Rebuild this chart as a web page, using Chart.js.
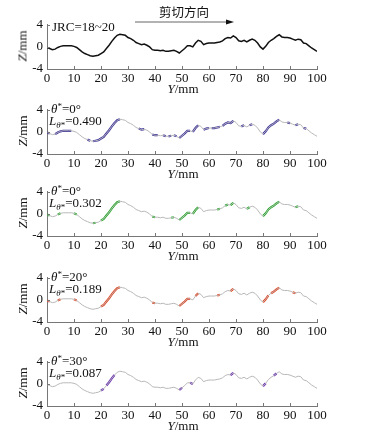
<!DOCTYPE html>
<html><head><meta charset="utf-8">
<script src="https://cdn.jsdelivr.net/npm/chart.js@4.4.1/dist/chart.umd.min.js"></script>
<style>
html,body{margin:0;padding:0;background:#fff;}
#wrap{position:relative;width:372px;height:437px;overflow:hidden;font-family:"Liberation Serif",serif;color:#111;}
canvas{position:absolute;left:0;}
.t{position:absolute;white-space:nowrap;font-size:13px;line-height:13px;}
.zl{position:absolute;font-size:13px;line-height:13px;transform:translate(-50%,-50%) rotate(-90deg);white-space:nowrap;}
.yl{position:absolute;font-size:13px;line-height:13px;transform:translate(-50%,-50%);white-space:nowrap;}
sub{font-size:9px;vertical-align:-3px;line-height:0;}
sup{font-size:9px;vertical-align:4px;line-height:0;}
</style></head>
<body><div id="wrap"></div>
<script>
// ---- data ----
const positions = [0,1,2,3,4,5,6,7,8,9,10,11,12,13,14,15,16,17,18,19,20,21,22,23,24,25,26,27,28,29,30,31,32,33,34,35,36,37,38,39,40,41,42,43,44,45,46,47,48,49,50,51,52,53,54,55,56,57,58,59,60,61,62,63,64,65,66,67,68,69,70,71,72,73,74,75,76,77,78,79,80,81,82,83,84,85,86,87,88,89,90,91,92,93,94,95,96,97,98,99,100];
const profileZ = [-0.1,-0.3,-0.5,-0.4,-0.1,0.1,0.2,0.2,0.2,0.2,0.1,-0.1,-0.5,-0.9,-1.2,-1.4,-1.6,-1.7,-1.6,-1.5,-1.2,-0.9,-0.3,0.3,1.0,1.6,2.1,2.3,2.2,2.1,1.7,1.5,1.2,0.8,0.6,0.4,0.5,0.3,0.0,-0.5,-0.6,-0.6,-0.7,-0.6,-0.8,-0.8,-0.7,-0.6,-0.8,-1.1,-0.7,-0.3,0.2,0.2,0.0,0.7,1.2,1.0,0.4,0.6,0.7,0.7,0.7,0.8,0.9,1.1,1.5,1.7,1.6,2.0,1.7,1.1,1.0,1.2,0.9,1.2,1.4,1.2,0.7,0.0,-0.4,0.1,0.8,1.2,1.5,1.9,2.2,1.8,1.7,1.7,1.6,1.4,1.2,1.4,1.3,0.7,0.6,0.2,-0.2,-0.5,-0.8];
const xTicks = [0,10,20,30,40,50,60,70,80,90,100];
const yTicks = [-4,-2,0,2,4];
const panelTheta = ['0°','0°','20°','30°'];
const panelL = ['0.490','0.302','0.189','0.087'];
const rangesBlue = [[0,1],[3,9],[15,16],[17,27],[34,36],[39,41],[43,44],[45,46],[47,48],[49,53],[54,56],[58,60],[61,64],[65,69],[72,73],[75,76],[80,86],[89,90],[92,93],[95,96]];
const rangesGreen = [[0,1],[4,5],[10,11],[17,18],[20,27],[39,40],[46,47],[49,53],[54,56],[63,64],[66,67],[68,69],[74,75],[80,86],[92,93]];
const rangesRed = [[0,1],[4,5],[10,11],[20,27],[39,40],[49,53],[55,56],[63,64],[68,69],[80,82],[83,86],[91,92]];
const rangesPurple = [[20,21],[22,25],[49,50],[53,54],[68,69],[80,81],[84,85]];

// ---- layout / style ----
const plotTops = [23,108,190,276,360];
const panelRanges = [null, rangesBlue, rangesGreen, rangesRed, rangesPurple];
const panelColors = [null, '#3a2f9c', '#26ae2a', '#e8441e', '#6a2db4'];
const PADTOP = 10, PH = 46, CH = 80;

Chart.defaults.font.family = '"Liberation Serif", serif';
Chart.defaults.font.size = 13;
Chart.defaults.color = '#111';

const innerTicks = {
  id:'innerTicks',
  afterDraw(chart){
    const {ctx, chartArea:a, scales:{x,y}} = chart;
    ctx.save(); ctx.strokeStyle='#777'; ctx.lineWidth=1; ctx.beginPath();
    x.ticks.forEach(t=>{const px=Math.round(x.getPixelForValue(t.value))+0.5; ctx.moveTo(px,a.bottom); ctx.lineTo(px,a.bottom-3);});
    y.ticks.forEach(t=>{const py=Math.round(y.getPixelForValue(t.value))+0.5; ctx.moveTo(a.left,py); ctx.lineTo(a.left+3,py);});
    ctx.stroke(); ctx.restore();
  }
};

const wrap = document.getElementById('wrap');
const pts = positions.map((x,i)=>({x:x, y:profileZ[i]}));

function inRange(r, a, b){ return r.some(([s,e])=> a>=s && b<=e); }

plotTops.forEach((top, i)=>{
  const cv = document.createElement('canvas');
  cv.width = 372; cv.height = CH;
  cv.style.top = (top - PADTOP) + 'px';
  cv.style.width='372px'; cv.style.height=CH+'px';
  wrap.appendChild(cv);
  let datasets;
  if (i===0) {
    datasets = [{data:pts, borderColor:'#111', borderWidth:1.5, pointRadius:0, tension:0, fill:false}];
  } else {
    const r = panelRanges[i], c = panelColors[i];
    datasets = [
      {data:pts, borderColor:'#b8b8b8', borderWidth:1, pointRadius:0, tension:0, fill:false},
      {data:pts, borderColor:c, borderWidth:2.2, pointRadius:0, tension:0, fill:false,
       segment:{borderColor: ctx => inRange(r, ctx.p0.parsed.x, ctx.p1.parsed.x) ? c : 'rgba(0,0,0,0)'}}
    ];
  }
  new Chart(cv, {
    type:'line',
    data:{datasets},
    plugins:[innerTicks],
    options:{
      responsive:false, animation:false, devicePixelRatio:1,
      layout:{padding:{left:0,right:55,top:PADTOP,bottom:0}},
      plugins:{legend:{display:false}, tooltip:{enabled:false}},
      scales:{
        x:{type:'linear', min:0, max:100,
           afterBuildTicks: s => { s.ticks = xTicks.map(v=>({value:v})); },
           afterFit: s => { s.height = CH - PADTOP - PH; },
           ticks:{padding:2, color:'#111', maxRotation:0, autoSkip:false},
           grid:{display:true, drawOnChartArea:false, drawTicks:false},
           border:{color:'#777', width:1}},
        y:{type:'linear', min:-4, max:4,
           afterBuildTicks: s => { s.ticks = yTicks.map(v=>({value:v})); },
           afterFit: s => { s.width = 47; },
           ticks:{padding:4, color:'#111'},
           grid:{display:true, drawOnChartArea:false, drawTicks:false},
           border:{color:'#777', width:1}}
      }
    }
  });
  // axis titles
  const z = document.createElement('div'); z.className='zl';
  z.style.left='22px'; z.style.top=(top+PH/2)+'px';
  z.innerHTML='<i>Z</i>/mm'; wrap.appendChild(z);
  const yl = document.createElement('div'); yl.className='yl';
  yl.style.left='183px'; yl.style.top=(top+65)+'px';
  yl.innerHTML='<i>Y</i>/mm'; wrap.appendChild(yl);
  if (i>0){
    const a = document.createElement('div'); a.className='t';
    a.style.left='51px'; a.style.top=(top-6)+'px';
    a.innerHTML='<i>θ</i><sup>*</sup>='+panelTheta[i-1]; wrap.appendChild(a);
    const b = document.createElement('div'); b.className='t';
    b.style.left='49px'; b.style.top=(top+6)+'px';
    b.innerHTML='<i>L</i><sub><i>θ</i>*</sub>='+panelL[i-1]; wrap.appendChild(b);
  }
});
// top panel annotations
const j = document.createElement('div'); j.className='t';
j.style.left='52px'; j.style.top='20px'; j.textContent='JRC=18~20'; wrap.appendChild(j);
const sh = document.createElement('div'); sh.className='t';
sh.style.left='159px'; sh.style.top='5px'; sh.style.fontFamily='"Noto Sans CJK SC",sans-serif'; sh.style.fontSize='12.5px';
sh.textContent='剪切方向'; wrap.appendChild(sh);
wrap.insertAdjacentHTML('beforeend','<svg style="position:absolute;left:0;top:0" width="372" height="40"><line x1="135" y1="22" x2="228" y2="22" stroke="#666" stroke-width="1"/><polygon points="226,19.5 234,22 226,24.5" fill="#111"/></svg>');
</script>
</body></html>
